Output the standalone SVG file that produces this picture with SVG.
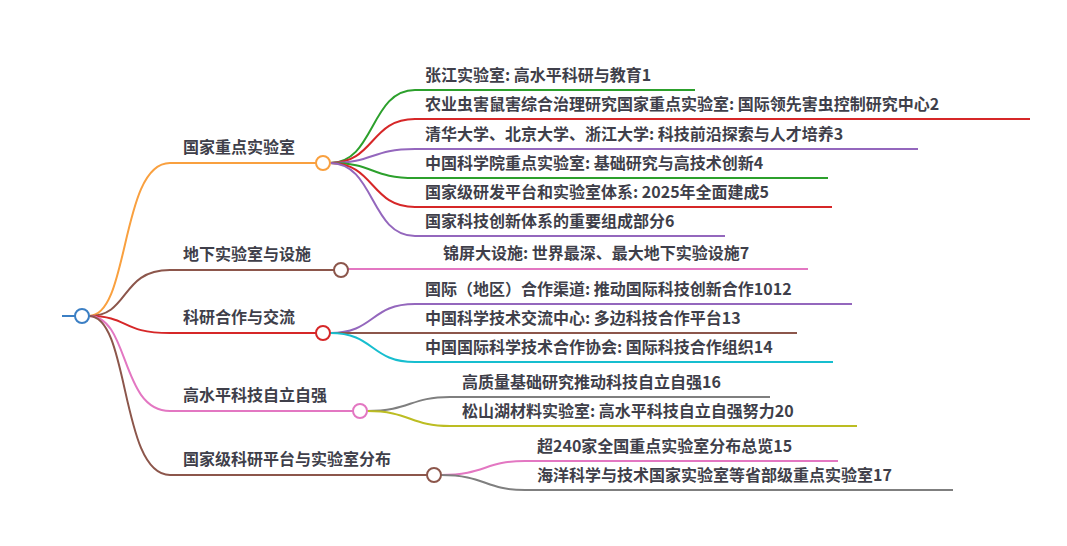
<svg xmlns="http://www.w3.org/2000/svg" width="1067" height="546" viewBox="0 0 1067 546">
<style>
.t{font-family:"Noto Sans CJK SC","Noto Sans",sans-serif;font-size:16px;fill:#3f3f4a;font-weight:700}
.c path{fill:none;stroke-width:2}
.n circle{fill:#fff;stroke-width:2}
</style>
<rect width="1067" height="546" fill="#fff"/>
<g class="c" id="connectors">
<path d="M62 316H75" stroke="#3b7fc4"/>
<path d="M89 316C130 316 120 163 170 163H316" stroke="#f9a03f"/>
<path d="M89 316C130 316 120 270 170 270H334" stroke="#8c564b"/>
<path d="M89 316C130 316 120 333 170 333H316" stroke="#d62728"/>
<path d="M89 316C130 316 120 411 170 411H353" stroke="#e377c2"/>
<path d="M89 316C130 316 120 475 170 475H427" stroke="#8c564b"/>
<path d="M330 163C375 163 370 90 415 90H695" stroke="#2ca02c"/>
<path d="M330 163C375 163 370 119 415 119H1030" stroke="#d62728"/>
<path d="M330 163C375 163 370 149 415 149H918" stroke="#9467bd"/>
<path d="M330 163C375 163 370 178 415 178H828" stroke="#2ca02c"/>
<path d="M330 163C375 163 370 207 415 207H832" stroke="#d62728"/>
<path d="M330 163C375 163 370 236 415 236H725" stroke="#9467bd"/>
<path d="M348 269H808" stroke="#e377c2"/>
<path d="M330 333C375 333 370 304 415 304H852" stroke="#9467bd"/>
<path d="M330 333H797" stroke="#8c564b"/>
<path d="M330 333C375 333 370 362 415 362H833" stroke="#17becf"/>
<path d="M367 411C410 411 410 397 450 397H770" stroke="#7f7f7f"/>
<path d="M367 411C410 411 410 426 450 426H857" stroke="#bcbd22"/>
<path d="M441 475C485 475 485 461 525 461H838" stroke="#e377c2"/>
<path d="M441 475C485 475 485 490 525 490H953" stroke="#7f7f7f"/>
</g>
<g id="root" class="n"><circle cx="82" cy="316" r="7" stroke="#3b7fc4"/></g>
<g id="n1" class="n"><circle cx="323" cy="163" r="7" stroke="#f9a03f"/><text class="t" x="183" y="153">国家重点实验室</text></g>
<g id="n2" class="n"><circle cx="341" cy="270" r="7" stroke="#8c564b"/><text class="t" x="183" y="260">地下实验室与设施</text></g>
<g id="n3" class="n"><circle cx="323" cy="333" r="7" stroke="#d62728"/><text class="t" x="183" y="323">科研合作与交流</text></g>
<g id="n4" class="n"><circle cx="360" cy="411" r="7" stroke="#e377c2"/><text class="t" x="183" y="401">高水平科技自立自强</text></g>
<g id="n5" class="n"><circle cx="434" cy="475" r="7" stroke="#8c564b"/><text class="t" x="183" y="465">国家级科研平台与实验室分布</text></g>
<g id="n1a"><text class="t" x="425" y="81">张江实验室: 高水平科研与教育1</text></g>
<g id="n1b"><text class="t" x="425" y="110">农业虫害鼠害综合治理研究国家重点实验室: 国际领先害虫控制研究中心2</text></g>
<g id="n1c"><text class="t" x="425" y="140">清华大学、北京大学、浙江大学: 科技前沿探索与人才培养3</text></g>
<g id="n1d"><text class="t" x="425" y="169">中国科学院重点实验室: 基础研究与高技术创新4</text></g>
<g id="n1e"><text class="t" x="425" y="198">国家级研发平台和实验室体系: 2025年全面建成5</text></g>
<g id="n1f"><text class="t" x="425" y="227">国家科技创新体系的重要组成部分6</text></g>
<g id="n2a"><text class="t" x="443" y="259">锦屏大设施: 世界最深、最大地下实验设施7</text></g>
<g id="n3a"><text class="t" x="425" y="295">国际（地区）合作渠道: 推动国际科技创新合作1012</text></g>
<g id="n3b"><text class="t" x="425" y="324">中国科学技术交流中心: 多边科技合作平台13</text></g>
<g id="n3c"><text class="t" x="425" y="353">中国国际科学技术合作协会: 国际科技合作组织14</text></g>
<g id="n4a"><text class="t" x="462" y="388">高质量基础研究推动科技自立自强16</text></g>
<g id="n4b"><text class="t" x="462" y="417">松山湖材料实验室: 高水平科技自立自强努力20</text></g>
<g id="n5a"><text class="t" x="537" y="452">超240家全国重点实验室分布总览15</text></g>
<g id="n5b"><text class="t" x="537" y="481">海洋科学与技术国家实验室等省部级重点实验室17</text></g>
</svg>
